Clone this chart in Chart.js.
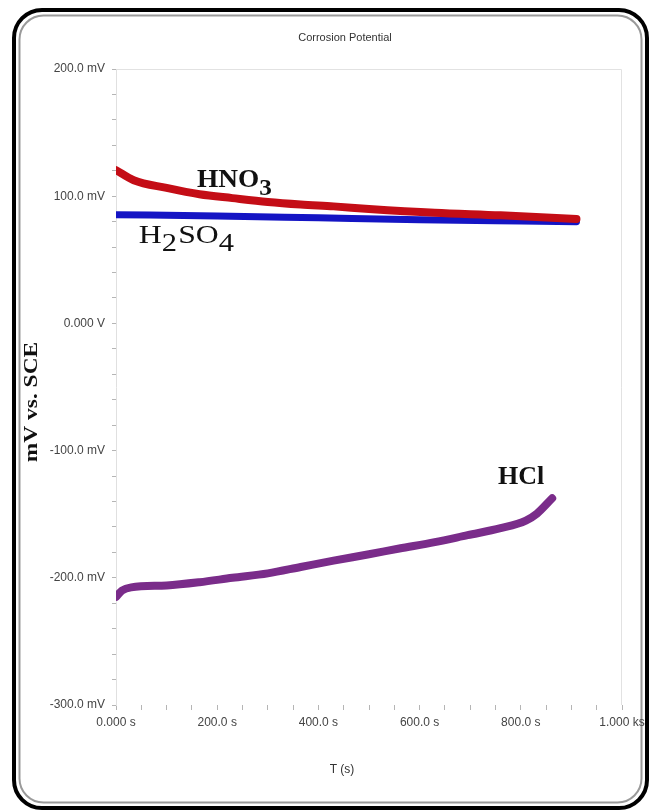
<!DOCTYPE html>
<html><head><meta charset="utf-8">
<script src="https://cdn.jsdelivr.net/npm/chart.js@4/dist/chart.umd.min.js"></script>
<style>html,body{margin:0;padding:0;background:#fff;}canvas{display:block}</style>
</head><body>
<canvas id="c" width="651" height="811"></canvas>
<script>
// ---- data ----
const hno3Time      = [0, 35, 100, 165, 230, 300, 365, 430, 500, 630, 760, 910];
const hno3Potential = [120.5, 112.5, 106.5, 101.5, 98.5, 95.5, 93.5, 92, 90, 87, 85, 82];

const h2so4Time      = [0, 200, 400, 600, 800, 910];
const h2so4Potential = [85.5, 84.5, 83, 81.5, 80.5, 80];

const hclTime      = [0, 12, 30, 100, 165, 230, 300, 365, 430, 500, 560, 630, 695, 760, 810, 832, 862];
const hclPotential = [-215, -210, -207.5, -206, -203.5, -200, -196.5, -191.5, -186.5, -181.5, -177, -172, -166.5, -161, -155, -149.5, -137.5];

const yTickValues = [-300, -200, -100, 0, 100, 200];
const yTickLabels = ['-300.0 mV', '-200.0 mV', '-100.0 mV', '0.000 V', '100.0 mV', '200.0 mV'];
const xTickValues = [0, 200, 400, 600, 800, 1000];
const xTickLabels = ['0.000 s', '200.0 s', '400.0 s', '600.0 s', '800.0 s', '1.000 ks'];

const chartTitle = 'Corrosion Potential';
const xTitle = 'T (s)';
const yTitle = 'mV vs. SCE';

// in-plot series names (text parts, second item marks a subscript) and their data-space anchors
const seriesLabelParts = [
  [['HNO', 0], ['3', 1]],
  [['H', 0], ['2', 1], ['SO', 0], ['4', 1]],
  [['HCl', 0]]
];
const seriesLabelTime = [160, 45, 755];
const seriesLabelPotential = [107, 63, -126];

const NARROW = "'Liberation Sans Narrow','Arial Narrow','Liberation Sans',Arial,sans-serif";
const SERIF = "'Liberation Serif','Times New Roman',serif";

function toXY(ts, vs){ return ts.map((t,i)=>({x:t, y:vs[i]})); }

const labelStyles = [
  {bold: true,  size: 26, sub: 24, stretch: 1.05},
  {bold: false, size: 26, sub: 25, stretch: 1.22},
  {bold: true,  size: 26, sub: 24, stretch: 1.0}
];

const decor = {
  id: 'decor',
  beforeDraw(chart){
    const ctx = chart.ctx;
    ctx.save();
    ctx.fillStyle = '#fff';
    ctx.fillRect(0,0,chart.width,chart.height);
    ctx.strokeStyle = '#000';
    ctx.lineWidth = 4;
    ctx.beginPath();
    ctx.roundRect(14, 10, 633, 798, 28);
    ctx.stroke();
    ctx.strokeStyle = '#9a9a9a';
    ctx.lineWidth = 2;
    ctx.beginPath();
    ctx.roundRect(19.5, 15.5, 622, 787, 24);
    ctx.stroke();
    const a = chart.chartArea;
    ctx.strokeStyle = '#e2e2e2';
    ctx.lineWidth = 1;
    ctx.beginPath();
    ctx.moveTo(a.left, a.top + 0.5); ctx.lineTo(a.right - 0.5, a.top + 0.5); ctx.lineTo(a.right - 0.5, a.bottom);
    ctx.stroke();
    ctx.restore();
  },
  afterDraw(chart){
    const ctx = chart.ctx;
    const xs = chart.scales.x, ys = chart.scales.y;
    ctx.save();
    ctx.fillStyle = '#333';
    ctx.font = '11px ' + NARROW;
    ctx.textAlign = 'center';
    ctx.textBaseline = 'middle';
    ctx.fillText(chartTitle, 345, 38);
    ctx.font = '12px ' + NARROW;
    ctx.fillText(xTitle, 342, 770);
    // y title (stretched along its length like the reference)
    ctx.save();
    ctx.translate(32, 402);
    ctx.rotate(-Math.PI / 2);
    ctx.scale(1.3, 1);
    ctx.fillStyle = '#111';
    ctx.font = 'bold 18px ' + SERIF;
    ctx.fillText(yTitle, 0, 0);
    ctx.restore();
    // series labels
    ctx.textAlign = 'left';
    ctx.textBaseline = 'alphabetic';
    ctx.fillStyle = '#111';
    seriesLabelParts.forEach((parts, k) => {
      const st = labelStyles[k];
      const x0 = xs.getPixelForValue(seriesLabelTime[k]);
      const y = ys.getPixelForValue(seriesLabelPotential[k]);
      ctx.save();
      ctx.translate(x0, y);
      ctx.scale(st.stretch, 1);
      let x = 0;
      parts.forEach(([txt, sub]) => {
        ctx.font = (st.bold ? 'bold ' : '') + (sub ? st.sub : st.size) + 'px ' + SERIF;
        ctx.fillText(txt, x, sub ? 8 : 0);
        x += ctx.measureText(txt).width + (sub ? 1 : 0);
      });
      ctx.restore();
    });
    ctx.restore();
  }
};

const tickFont = {family: NARROW, size: 12};

new Chart(document.getElementById('c'), {
  type: 'line',
  data: {
    datasets: [
      {label: 'HNO3', data: toXY(hno3Time, hno3Potential), borderColor: '#c40d16', borderWidth: 8},
      {label: 'H2SO4', data: toXY(h2so4Time, h2so4Potential), borderColor: '#1414c4', borderWidth: 7},
      {label: 'HCl', data: toXY(hclTime, hclPotential), borderColor: '#7a2c8a', borderWidth: 8}
    ].map(d => Object.assign(d, {pointRadius: 0, fill: false, cubicInterpolationMode: 'monotone', borderCapStyle: 'round', borderJoinStyle: 'round'}))
  },
  options: {
    responsive: false,
    animation: false,
    devicePixelRatio: 1,
    layout: {padding: {top: 69, right: 29, left: 0, bottom: 0}},
    plugins: {legend: {display: false}, title: {display: false}, tooltip: {enabled: false}},
    scales: {
      x: {
        type: 'linear', min: 0, max: 1000,
        afterFit(s){ s.height = 106; },
        ticks: {stepSize: 50, autoSkip: false, maxRotation: 0, padding: 5, color: '#444', font: tickFont,
          callback(v){ const i = xTickValues.indexOf(v); return i >= 0 ? xTickLabels[i] : ''; }},
        grid: {drawOnChartArea: false, drawTicks: true, tickLength: 5, color: '#b5b5b5'},
        border: {display: false}
      },
      y: {
        type: 'linear', min: -300, max: 200,
        afterFit(s){ s.width = 116; },
        ticks: {stepSize: 20, autoSkip: false, padding: 7, color: '#444', font: tickFont,
          callback(v){ const i = yTickValues.indexOf(v); return i >= 0 ? yTickLabels[i] : ''; }},
        grid: {drawOnChartArea: false, drawTicks: true, tickLength: 4, color: '#b5b5b5'},
        border: {display: true, color: '#e0e0e0'},
        title: {display: false}
      }
    }
  },
  plugins: [decor]
});
</script>
</body></html>
